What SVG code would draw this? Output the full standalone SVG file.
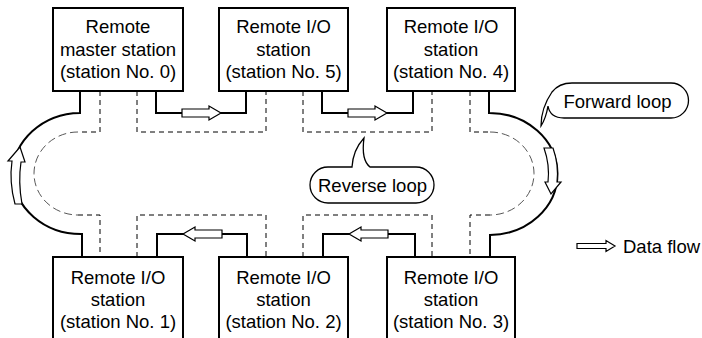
<svg xmlns="http://www.w3.org/2000/svg" width="702" height="338" viewBox="0 0 702 338">
<style>
  .box{fill:#fff;stroke:#000;stroke-width:2}
  .t{font-family:"Liberation Sans",Arial,sans-serif;font-size:18.5px;fill:#000;text-anchor:middle}
  .ln{fill:none;stroke:#000;stroke-width:2}
  .ds{fill:none;stroke:#000;stroke-width:1;stroke-dasharray:5,4}
  .dsi{fill:none;stroke:#444;stroke-width:0.9;stroke-dasharray:8,4}
  .ar{fill:#fff;stroke:#000;stroke-width:1.2;stroke-linejoin:miter}
  .bub{fill:#fff;stroke:#000;stroke-width:1.3}
</style>
<rect width="702" height="338" fill="#fff"/>
<g id="connectors">
  <path class="ln" d="M80,91 V113 A68,60.5 0 0 0 82,234 V257"/>
  <path class="ln" d="M489,91 V113 A68,61 0 0 1 490,235 V257"/>
  <path class="ln" d="M156,91 V113 H246 V91"/>
  <path class="ln" d="M322,91 V113 H413 V91"/>
  <path class="ln" d="M157,257 V234 H247 V257"/>
  <path class="ln" d="M323,257 V234 H415 V257"/>
  <path class="ds" d="M100,91 V132 H78"/>
  <path class="dsi" d="M78,132 A44,41.5 0 0 0 78,215"/>
  <path class="ds" d="M78,215 H100 V257"/>
  <path class="ds" d="M137,91 V132 H266 V91"/>
  <path class="ds" d="M303,91 V132 H432 V91"/>
  <path class="ds" d="M470,91 V132 H490"/>
  <path class="dsi" d="M490,132 A44,41.5 0 0 1 490,215"/>
  <path class="ds" d="M490,215 H470 V257"/>
  <path class="ds" d="M137,257 V215 H266 V257"/>
  <path class="ds" d="M303,257 V215 H432 V257"/>
  <path class="ar" d="M182,109 H209 V106 L221,113 L209,120 V117 H182 Z"/>
  <path class="ar" d="M348,109 H375 V106 L387,113 L375,120 V117 H348 Z"/>
  <path class="ar" d="M222,230 H195 V227 L183,234 L195,241 V238 H222 Z"/>
  <path class="ar" d="M388,230 H361 V227 L349,234 L361,241 V238 H388 Z"/>
  <path class="ar" d="M15,204 Q9,182 12,161 L8,161 L20,147 L25,162 L21,162 Q18,182 22,204 Z"/>
  <path class="ar" d="M544,148 Q550,165 548,182 L545,182 L551,194 L561,182 L557,182 Q559,165 553,148 Z"/>
</g>
<g id="n0"><rect class="box" x="53" y="8" width="130" height="83"/>
  <text class="t" x="118" y="33.3">Remote</text><text class="t" x="118" y="55.5">master station</text><text class="t" x="118" y="77.7">(station No. 0)</text></g>
<g id="n5"><rect class="box" x="219" y="8" width="129" height="83"/>
  <text class="t" x="283.5" y="33.3">Remote I/O</text><text class="t" x="283.5" y="55.5">station</text><text class="t" x="283.5" y="77.7">(station No. 5)</text></g>
<g id="n4"><rect class="box" x="387" y="8" width="128" height="83"/>
  <text class="t" x="451" y="33.3">Remote I/O</text><text class="t" x="451" y="55.5">station</text><text class="t" x="451" y="77.7">(station No. 4)</text></g>
<g id="n1"><rect class="box" x="53" y="257" width="130" height="90"/>
  <text class="t" x="118" y="283.5">Remote I/O</text><text class="t" x="118" y="305.5">station</text><text class="t" x="118" y="327.5">(station No. 1)</text></g>
<g id="n2"><rect class="box" x="219" y="257" width="129" height="90"/>
  <text class="t" x="283.5" y="283.5">Remote I/O</text><text class="t" x="283.5" y="305.5">station</text><text class="t" x="283.5" y="327.5">(station No. 2)</text></g>
<g id="n3"><rect class="box" x="387" y="257" width="128" height="90"/>
  <text class="t" x="451" y="283.5">Remote I/O</text><text class="t" x="451" y="305.5">station</text><text class="t" x="451" y="327.5">(station No. 3)</text></g>
<g id="forward-loop">
  <path class="bub" d="M572,83 H671 A17.5,17.5 0 0 1 671,118 H564 Q550,118 548,106 Q546,118 541,126 Q541,108 552,92 Q559,83 572,83 Z"/>
  <text class="t" x="617.5" y="107.5">Forward loop</text></g>
<g id="reverse-loop">
  <path class="bub" d="M328,167 H352 Q353,150 364,138 Q361,160 370,167 H416 A18,18 0 0 1 416,203 H328 A18,18 0 0 1 328,167 Z"/>
  <text class="t" x="372.5" y="192">Reverse loop</text></g>
<g id="legend">
  <path class="ar" d="M577,243.5 H606 V240.5 L615,246 L606,251.5 V248.5 H577 Z"/>
  <text class="t" x="623" y="252.5" style="text-anchor:start">Data flow</text></g>
</svg>
